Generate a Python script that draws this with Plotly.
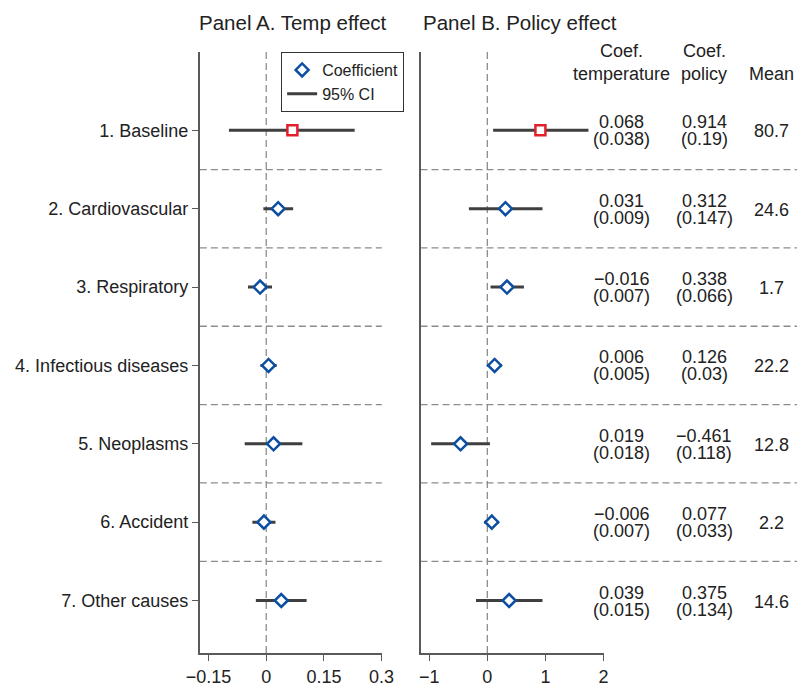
import plotly.graph_objects as go

# ---------------- data ----------------
rows = ["1. Baseline", "2. Cardiovascular", "3. Respiratory", "4. Infectious diseases",
        "5. Neoplasms", "6. Accident", "7. Other causes"]
row_pos = [1, 2, 3, 4, 5, 6, 7]

temp_coef = [0.068, 0.031, -0.016, 0.006, 0.019, -0.006, 0.039]
temp_lo = [-0.097, -0.0075, -0.0475, -0.015, -0.056, -0.036, -0.027]
temp_hi = [0.230, 0.070, 0.015, 0.027, 0.094, 0.024, 0.105]

pol_coef = [0.914, 0.312, 0.338, 0.126, -0.461, 0.077, 0.375]
pol_lo = [0.10, -0.317, 0.055, 0.00, -0.967, -0.055, -0.195]
pol_hi = [1.74, 0.95, 0.63, 0.25, 0.045, 0.20, 0.95]

tab_temp = ["0.068", "0.031", "\u22120.016", "0.006", "0.019", "\u22120.006", "0.039"]
tab_temp_se = ["(0.038)", "(0.009)", "(0.007)", "(0.005)", "(0.018)", "(0.007)", "(0.015)"]
tab_pol = ["0.914", "0.312", "0.338", "0.126", "\u22120.461", "0.077", "0.375"]
tab_pol_se = ["(0.19)", "(0.147)", "(0.066)", "(0.03)", "(0.118)", "(0.033)", "(0.134)"]
tab_mean = ["80.7", "24.6", "1.7", "22.2", "12.8", "2.2", "14.6"]

xticks_a = [-0.15, 0, 0.15, 0.3]
xticks_a_text = ["\u22120.15", "0", "0.15", "0.3"]
xticks_b = [-1, 0, 1, 2]
xticks_b_text = ["\u22121", "0", "1", "2"]

# ---------------- style ----------------
W, H = 809, 687
FONT = "Liberation Sans, Arial, Helvetica, sans-serif"
TXT = "#222222"
BLUE = "#0b4ea2"
RED = "#e2202b"
CI_COL = "#3f3f3f"
AXIS_COL = "#5a5a5a"
GRID_COL = "#8c8c8c"
DASH = "7px,4px"

dom_a = [192 / W, 380 / W]
dom_b = [420 / W, 610 / W]

fig = go.Figure()


def ci_xy(lo, hi, pos):
    xs, ys = [], []
    for a, b, p in zip(lo, hi, pos):
        xs += [a, b, None]
        ys += [p, p, None]
    return xs, ys


for (lo, hi, coef, xa, ya, show) in [
    (temp_lo, temp_hi, temp_coef, "x", "y", True),
    (pol_lo, pol_hi, pol_coef, "x2", "y2", False),
]:
    cx, cy = ci_xy(lo, hi, row_pos)
    fig.add_trace(go.Scatter(x=cx, y=cy, mode="lines", xaxis=xa, yaxis=ya,
                             line=dict(color=CI_COL, width=3),
                             name="95% CI", legendgroup="ci", showlegend=show,
                             legendrank=2, hoverinfo="skip"))
    # baseline (red square)
    fig.add_trace(go.Scatter(x=coef[:1], y=row_pos[:1], mode="markers", xaxis=xa, yaxis=ya,
                             marker=dict(symbol="square", size=10, color="white",
                                         line=dict(color=RED, width=2.5)),
                             showlegend=False))
    # other rows (blue diamonds)
    fig.add_trace(go.Scatter(x=coef[1:], y=row_pos[1:], mode="markers", xaxis=xa, yaxis=ya,
                             marker=dict(symbol="diamond", size=10, color="white",
                                         line=dict(color=BLUE, width=2.5)),
                             name="Coefficient", legendgroup="coef", showlegend=show,
                             legendrank=1))

shapes = []
# zero lines
for xr, yr in [("x", "y domain"), ("x2", "y2 domain")]:
    shapes.append(dict(type="line", xref=xr, yref=yr, x0=0, x1=0, y0=0, y1=1,
                       line=dict(color=GRID_COL, width=1.3, dash=DASH), layer="below"))
# row separators
for k in range(len(rows) - 1):
    yv = (row_pos[k] + row_pos[k + 1]) / 2
    shapes.append(dict(type="line", xref="x domain", yref="y", x0=0, x1=1, y0=yv, y1=yv,
                       line=dict(color=GRID_COL, width=1.3, dash=DASH), layer="below"))
    shapes.append(dict(type="line", xref="paper", yref="y2", x0=dom_b[0], x1=1, y0=yv, y1=yv,
                       line=dict(color=GRID_COL, width=1.3, dash=DASH), layer="below"))

annotations = []
tfont = dict(family=FONT, size=18, color=TXT)
col_x = [628 / W, 713 / W, 783 / W]
for i, p in enumerate(row_pos):
    for cx, top, bot in [(col_x[0], tab_temp[i], tab_temp_se[i]),
                         (col_x[1], tab_pol[i], tab_pol_se[i])]:
        annotations.append(dict(xref="paper", yref="y2", x=cx, y=p, text=top, showarrow=False,
                                font=tfont, yshift=8, xanchor="center", yanchor="middle"))
        annotations.append(dict(xref="paper", yref="y2", x=cx, y=p, text=bot, showarrow=False,
                                font=tfont, yshift=-9, xanchor="center", yanchor="middle"))
    annotations.append(dict(xref="paper", yref="y2", x=col_x[2], y=p, text=tab_mean[i],
                            showarrow=False, font=tfont, yshift=-1,
                            xanchor="center", yanchor="middle"))


def py(pix):
    return 1 - (pix - 52) / 608


for cx, l1, l2 in [(col_x[0], "Coef.", "temperature"), (col_x[1], "Coef.", "policy")]:
    annotations.append(dict(xref="paper", yref="paper", x=cx, y=py(51), text=l1,
                            showarrow=False, font=tfont, xanchor="center", yanchor="middle"))
    annotations.append(dict(xref="paper", yref="paper", x=cx, y=py(74), text=l2,
                            showarrow=False, font=tfont, xanchor="center", yanchor="middle"))
annotations.append(dict(xref="paper", yref="paper", x=col_x[2], y=py(74), text="Mean",
                        showarrow=False, font=tfont, xanchor="center", yanchor="middle"))

# panel titles
title_font = dict(family=FONT, size=20.5, color=TXT)
annotations.append(dict(xref="paper", yref="paper", x=288 / W, y=py(22),
                        text="Panel A. Temp effect", showarrow=False, font=title_font,
                        xanchor="center", yanchor="middle"))
annotations.append(dict(xref="paper", yref="paper", x=421 / W, y=py(22),
                        text="Panel B. Policy effect", showarrow=False, font=title_font,
                        xanchor="left", yanchor="middle"))

axis_common = dict(showline=True, linecolor=AXIS_COL, linewidth=2, showgrid=False,
                   zeroline=False, ticks="outside", ticklen=6, tickcolor=AXIS_COL,
                   tickwidth=1.3, tickfont=dict(family=FONT, size=18, color=TXT))

fig.update_layout(
    width=W, height=H,
    margin=dict(l=0, r=0, t=52, b=27),
    paper_bgcolor="white", plot_bgcolor="white",
    font=dict(family=FONT, color=TXT),
    xaxis=dict(domain=dom_a, range=[-0.1727, 0.3005], tickvals=xticks_a,
               ticktext=xticks_a_text, anchor="y", **axis_common),
    yaxis=dict(domain=[0, 1], range=[7.67, 0], tickvals=row_pos, ticktext=rows,
               anchor="x", **axis_common),
    xaxis2=dict(domain=dom_b, range=[-1.15, 2.015], tickvals=xticks_b,
                ticktext=xticks_b_text, anchor="y2", **axis_common),
    yaxis2=dict(domain=[0, 1], range=[7.67, 0], anchor="x2", showline=True,
                linecolor=AXIS_COL, linewidth=2, showgrid=False, zeroline=False,
                showticklabels=False, ticks=""),
    shapes=shapes,
    annotations=annotations,
    showlegend=True,
    legend=dict(x=276 / W, y=1, xanchor="left", yanchor="top",
                bordercolor="#333333", borderwidth=1, bgcolor="white",
                font=dict(family=FONT, size=16, color=TXT), tracegroupgap=0,
                itemwidth=30),
)

fig.write_html("out.html", config={"displayModeBar": False},
               post_script="document.body.style.margin='0';document.body.style.overflow='hidden';")
